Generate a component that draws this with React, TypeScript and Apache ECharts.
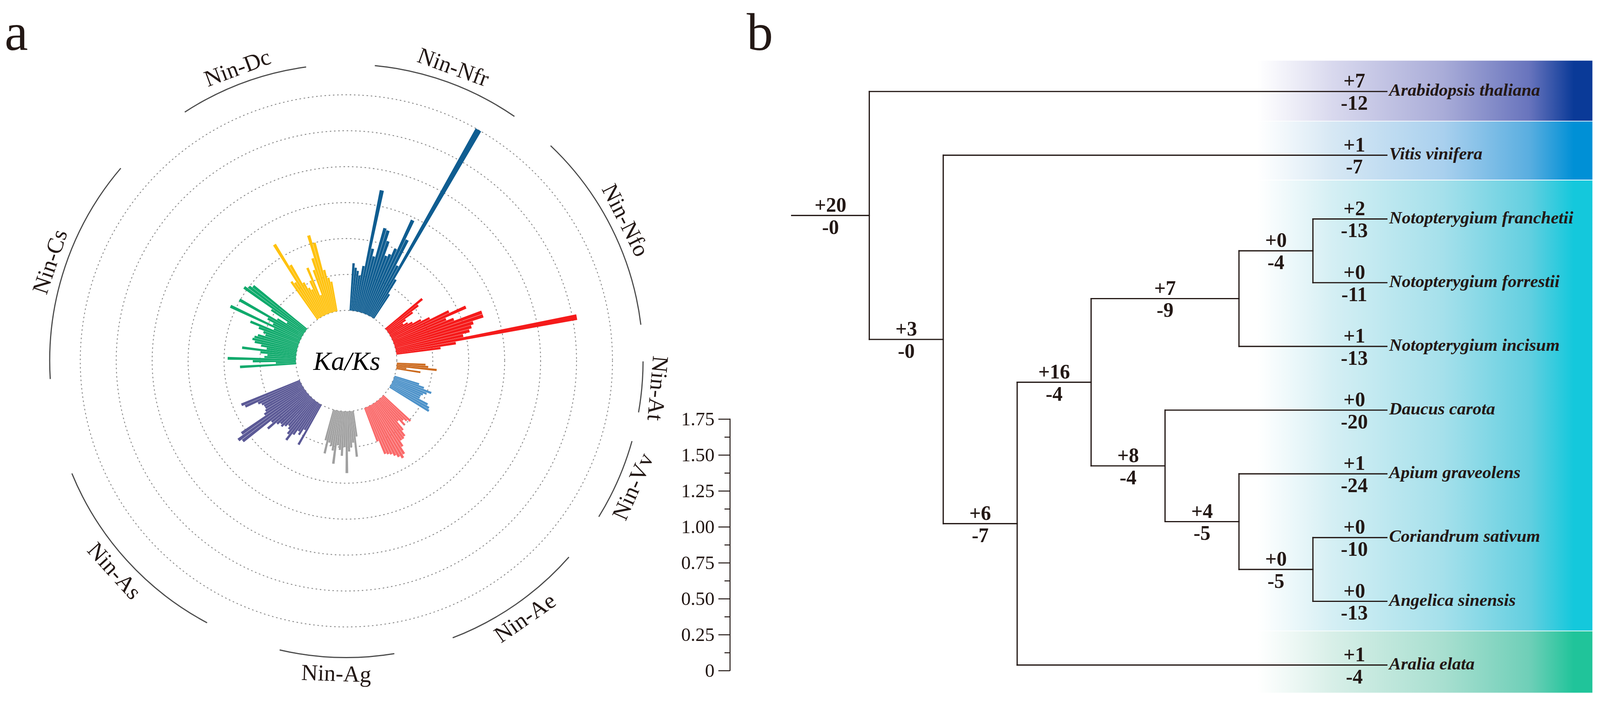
import React, { useEffect, useRef } from 'react';
import * as echarts from 'echarts';

const W = 4185;
const H = 1828;

// ---------- panel a : Ka/Ks values, clockwise inside each group ----------
const GROUP_NAMES = ['Nin-Dc', 'Nin-Nfr', 'Nin-Nfo', 'Nin-At', 'Nin-Vv', 'Nin-Ae', 'Nin-Ag', 'Nin-As', 'Nin-Cs'];
const GROUP_COLORS = ['#FFC20F', '#0F5D91', '#F51B1B', '#CC6A1E', '#4D92C9', '#FA6A6A', '#A0A0A0', '#5B5996', '#10AA6C'];
const KAKS_DC = [0.32, 0.30, 0.60, 0.42, 0.27, 0.22, 0.20, 0.26, 0.35, 0.14, 0.32, 0.40, 0.56, 0.50, 0.30, 0.24, 0.21];
const KAKS_NFR = [0.33, 0.30, 0.28, 0.25, 0.32, 0.86, 0.45, 0.40, 0.61, 0.60, 0.53, 0.43, 0.45, 0.50, 0.73, 0.59, 0.40, 1.50, 0.31, 0.20];
const KAKS_NFO = [0.33, 0.28, 0.22, 0.15, 0.12, 0.15, 0.18, 0.24, 0.30, 0.44, 0.56, 0.40, 0.45, 0.65, 0.65, 0.57, 0.55, 0.53, 0.48, 1.28, 0.42, 0.31];
const KAKS_AT = [0.20, 0.22, 0.28, 0.07, 0.17];
const KAKS_VV = [0.18, 0.22, 0.28, 0.25, 0.23, 0.22, 0.22, 0.29, 0.31, 0.32];
const KAKS_AE = [0.26, 0.24, 0.22, 0.25, 0.20, 0.27, 0.31, 0.32, 0.32, 0.36, 0.41, 0.43, 0.41, 0.39, 0.37, 0.36, 0.35, 0.25];
const KAKS_AG = [0.18, 0.32, 0.22, 0.25, 0.28, 0.43, 0.25, 0.31, 0.27, 0.24, 0.37, 0.28, 0.25, 0.23, 0.31, 0.22];
const KAKS_AS = [0.32, 0.21, 0.26, 0.24, 0.28, 0.34, 0.30, 0.27, 0.25, 0.27, 0.29, 0.28, 0.30, 0.37, 0.32, 0.56, 0.58, 0.535, 0.33, 0.31, 0.30, 0.30, 0.31, 0.33, 0.42, 0.44];
const KAKS_CS = [0.39, 0.14, 0.30, 0.475, 0.22, 0.20, 0.25, 0.38, 0.21, 0.25, 0.30, 0.32, 0.31, 0.29, 0.24, 0.26, 0.30, 0.37, 0.20, 0.54, 0.22, 0.27, 0.505, 0.21, 0.14, 0.28, 0.525, 0.50, 0.48];
const KAKS_GROUPS = [KAKS_DC, KAKS_NFR, KAKS_NFO, KAKS_AT, KAKS_VV, KAKS_AE, KAKS_AG, KAKS_AS, KAKS_CS];
// layout: empty angular slots after each group, and label-arc overhang (deg, start / end)
const GAP_AFTER = [9, 11, 6, 5, 7, 8, 9, 12, 10];
const ARC_PAD = [[-2.5, 2.2], [-2, 1], [6.5, 0], [1.9, 0.5], [1.3, -0.3], [1.1, -0.5], [0.8, -2.5], [1, -0.3], [-0.5, 1]];
const SCALE_TICKS = [0, 0.25, 0.5, 0.75, 1.0, 1.25, 1.5, 1.75];

// ---------- panel b : tree of gains / losses ----------
const NODE_PARENT = [-1, 0, 0, 2, 2, 4, 5, 6, 7, 7, 6, 5, 11, 11, 13, 13, 15, 15, 4];
const NODE_GAIN = [20, 7, 3, 1, 6, 16, 7, 0, 2, 0, 1, 8, 0, 4, 1, 0, 0, 0, 1];
const NODE_LOSS = [0, 12, 0, 7, 7, 4, 9, 4, 13, 11, 13, 4, 20, 5, 24, 5, 10, 13, 4];
const NODE_NAME = ['', 'Arabidopsis thaliana', '', 'Vitis vinifera', '', '', '', '',
  'Notopterygium franchetii', 'Notopterygium forrestii', 'Notopterygium incisum', '',
  'Daucus carota', '', 'Apium graveolens', '', 'Coriandrum sativum', 'Angelica sinensis', 'Aralia elata'];
const BOX_EDGES = [-0.49, 0.465, 1.39, 8.465, 9.44];
const BOX_COLORS = [
  ['#d9d9ee', '#a9acd8', '#6874bd', '#0a3a98'],
  ['#d7e8f4', '#a9d0ee', '#5aaee0', '#0090d6'],
  ['#d5eff4', '#a5e0eb', '#63cfe0', '#14c8dc'],
  ['#d8efe8', '#a8dfd0', '#6fcfb8', '#20c49a'],
];

const INK = '#231815';
const SERIF = '"Liberation Serif", "Times New Roman", serif';

export default function App() {
  const ref = useRef<HTMLDivElement>(null);

  useEffect(() => {
    const el = ref.current as HTMLDivElement;
    // fit the 4185x1828 drawing into the viewport the page really has (uniform scale)
    document.documentElement.style.overflow = 'hidden';
    document.body.style.overflow = 'hidden';
    document.body.style.margin = '0';
    const vw = window.innerWidth || W;
    const vh = window.innerHeight || H;
    const k = Math.min(vw / W, vh / H);
    if (Math.abs(k - 1) > 0.002) {
      el.style.transformOrigin = '0 0';
      el.style.transform = `scale(${k})`;
    }

    const chart = echarts.init(el, null, { renderer: 'svg', width: W, height: H });

    // ---- polar bar data ----
    const barData: any[] = [];
    const groupRange: number[][] = [];
    KAKS_GROUPS.forEach((vals, g) => {
      const s = barData.length;
      vals.forEach((v) => barData.push({ value: v, itemStyle: { color: GROUP_COLORS[g] } }));
      groupRange.push([s, barData.length - 1]);
      for (let q = 0; q < GAP_AFTER[g]; q++) barData.push('-');
    });
    const cats = barData.map((_, i) => 'c' + i);

    // ---- tree layout ----
    const n = NODE_PARENT.length;
    const kids: number[][] = NODE_PARENT.map(() => []);
    NODE_PARENT.forEach((p, i) => { if (p >= 0) kids[p].push(i); });
    const hgt: number[] = new Array(n).fill(0);
    const ny: number[] = new Array(n).fill(0);
    let leafCount = 0;
    const dfs = (i: number) => {
      if (!kids[i].length) { ny[i] = leafCount++; hgt[i] = 0; return; }
      kids[i].forEach(dfs);
      hgt[i] = 1 + Math.max(...kids[i].map((c) => hgt[c]));
      ny[i] = (ny[kids[i][0]] + ny[kids[i][kids[i].length - 1]]) / 2;
    };
    dfs(0);
    const TIP = hgt[0];
    const nx = hgt.map((h) => TIP - h);
    const ROOT_STUB = -1.05;
    const treeData = NODE_PARENT.map((p, i) => [nx[i], ny[i], p >= 0 ? nx[p] : ROOT_STUB, i]);

    const option: any = {
      animation: false,
      backgroundColor: '#ffffff',
      polar: { center: [906, 944], radius: [132, 696] },
      angleAxis: {
        type: 'category', data: cats, startAngle: 125.5, clockwise: true,
        axisLine: { show: false }, axisTick: { show: false }, axisLabel: { show: false }, splitLine: { show: false },
      },
      radiusAxis: {
        type: 'value', min: 0, max: 1.5, interval: 0.25,
        axisLine: { show: false }, axisTick: { show: false }, axisLabel: { show: false },
        splitLine: { show: true, lineStyle: { color: '#8a8a8a', width: 2.4, type: [2, 9], cap: 'round' } },
      },
      grid: [
        { left: 1909, top: 1096, width: 1, height: 658, containLabel: false, outerBoundsMode: 'none' },
        { left: 2061, top: 156, width: 2108, height: 1667, containLabel: false, outerBoundsMode: 'none' },
      ],
      xAxis: [
        { type: 'value', gridIndex: 0, show: false, min: 0, max: 1 },
        { type: 'value', gridIndex: 1, show: false, min: -1.1, max: 9.8 },
      ],
      yAxis: [
        {
          type: 'value', gridIndex: 0, min: SCALE_TICKS[0], max: SCALE_TICKS[SCALE_TICKS.length - 1], interval: 0.25,
          position: 'left',
          axisLine: { show: true, lineStyle: { color: INK, width: 2.6 } },
          axisTick: { show: true, length: 30, lineStyle: { color: INK, width: 2.6 } },
          minorTick: { show: true, splitNumber: 2, length: 14, lineStyle: { color: INK, width: 2.6 } },
          splitLine: { show: false },
          axisLabel: {
            show: true, margin: 40, fontSize: 50, fontFamily: SERIF, color: INK,
            formatter: (v: number) => (v === 0 ? '0' : v.toFixed(2)),
          },
        },
        { type: 'value', gridIndex: 1, show: false, min: -0.5, max: 9.5, inverse: true },
      ],
      graphic: [
        { type: 'text', x: 12, y: 84, style: { text: 'a', fontSize: 138, fontFamily: SERIF, fill: INK, align: 'left', verticalAlign: 'middle' } },
        { type: 'text', x: 1953, y: 84, style: { text: 'b', fontSize: 138, fontFamily: SERIF, fill: INK, align: 'left', verticalAlign: 'middle' } },
        { type: 'text', x: 907, y: 944, style: { text: 'Ka/Ks', fontSize: 70, fontStyle: 'italic', fontFamily: SERIF, fill: '#000', align: 'center', verticalAlign: 'middle' } },
      ],
      series: [
        {
          type: 'bar', coordinateSystem: 'polar', data: barData, barCategoryGap: '8%', z: 3,
        },
        {
          type: 'custom', coordinateSystem: 'polar', z: 4,
          data: GROUP_NAMES.map((_, g) => [1, groupRange[g][0], groupRange[g][1], g]),
          renderItem: (params: any, api: any) => {
            const cs = params.coordSys;
            const cx = cs.cx, cy = cs.cy;
            const s = api.value(1), e = api.value(2), g = api.value(3);
            const ang = (idx: number) => {
              const p = api.coord([1, idx]);
              return (Math.atan2(cy - p[1], p[0] - cx) * 180) / Math.PI;
            };
            let step = ang(s) - ang(s + 1);
            step = ((step % 360) + 360) % 360;
            const a0 = ang(s) + step / 2 + ARC_PAD[g][0];
            let span = a0 - (ang(e) - step / 2 - ARC_PAD[g][1]);
            span = ((span % 360) + 360) % 360;
            const R_ARC = 776, R_TXT = 818;
            const rad = Math.PI / 180;
            let mid = a0 - span / 2;
            mid = ((mid + 180) % 360 + 360) % 360 - 180;
            const lower = mid < -12 && mid > -168;
            const rot = lower ? mid + 90 : mid - 90;
            return {
              type: 'group',
              children: [
                {
                  type: 'arc',
                  shape: { cx, cy, r: R_ARC, startAngle: -a0 * rad, endAngle: (-a0 + span) * rad, clockwise: true },
                  style: { stroke: '#4a4a4a', lineWidth: 3, fill: null },
                },
                {
                  type: 'text',
                  x: cx + R_TXT * Math.cos(mid * rad),
                  y: cy - R_TXT * Math.sin(mid * rad),
                  rotation: rot * rad,
                  style: { text: GROUP_NAMES[g], fontSize: 60, fontFamily: SERIF, fill: INK, align: 'center', verticalAlign: 'middle' },
                },
              ],
            };
          },
        },
        { type: 'line', xAxisIndex: 0, yAxisIndex: 0, data: [], silent: true },
        {
          type: 'custom', xAxisIndex: 1, yAxisIndex: 1, z: 1,
          data: BOX_COLORS.map((_, q) => [BOX_EDGES[q], BOX_EDGES[q + 1], q]),
          renderItem: (params: any, api: any) => {
            const q = api.value(2);
            const tl = api.coord([4.74, api.value(0)]);
            const br = api.coord([9.78, api.value(1)]);
            const c = BOX_COLORS[q];
            return {
              type: 'rect',
              shape: { x: tl[0], y: tl[1] + 1, width: br[0] - tl[0], height: br[1] - tl[1] - 2 },
              style: {
                fill: {
                  type: 'linear', x: 0, y: 0, x2: 1, y2: 0,
                  colorStops: [
                    { offset: 0, color: 'rgba(255,255,255,0)' },
                    { offset: 0.1, color: 'rgba(255,255,255,0.9)' },
                    { offset: 0.3, color: c[0] },
                    { offset: 0.6, color: c[1] },
                    { offset: 0.83, color: c[2] },
                    { offset: 0.95, color: c[3] },
                    { offset: 1, color: c[3] },
                  ],
                },
              },
            };
          },
        },
        {
          type: 'custom', xAxisIndex: 1, yAxisIndex: 1, z: 2,
          data: treeData,
          renderItem: (params: any, api: any) => {
            const i = api.value(3);
            const x = api.value(0), y = api.value(1), px = api.value(2);
            const p = api.coord([x, y]);
            const pp = api.coord([px, y]);
            const els: any[] = [];
            const ls = { stroke: INK, lineWidth: 3.2, lineCap: 'square' };
            els.push({ type: 'line', shape: { x1: pp[0], y1: p[1], x2: p[0], y2: p[1] }, style: ls });
            const isLeaf = kids[i].length === 0;
            if (!isLeaf) {
              const c0 = api.coord([x, ny[kids[i][0]]]);
              const c1 = api.coord([x, ny[kids[i][kids[i].length - 1]]]);
              els.push({ type: 'line', shape: { x1: c0[0], y1: c0[1], x2: c1[0], y2: c1[1] }, style: ls });
            }
            const lx = isLeaf ? api.coord([TIP - 0.44, y])[0] : (pp[0] + p[0]) / 2;
            const numStyle = { fontSize: 53, fontWeight: 'bold', fontFamily: SERIF, fill: INK, align: 'center', verticalAlign: 'middle' };
            els.push({ type: 'text', x: lx, y: p[1] - 28, style: { ...numStyle, text: '+' + NODE_GAIN[i] } });
            els.push({ type: 'text', x: lx, y: p[1] + 30, style: { ...numStyle, text: '-' + NODE_LOSS[i] } });
            if (isLeaf) {
              els.push({
                type: 'text', x: p[0] + 6, y: p[1] - 4,
                style: { text: NODE_NAME[i], fontSize: 46, fontWeight: 'bold', fontStyle: 'italic', fontFamily: SERIF, fill: INK, align: 'left', verticalAlign: 'middle' },
              });
            }
            return { type: 'group', children: els };
          },
        },
      ],
    };

    chart.setOption(option);
    return () => chart.dispose();
  }, []);

  return <div ref={ref} style={{ position: 'absolute', left: 0, top: 0, width: W, height: H, background: '#fff' }} />;
}
